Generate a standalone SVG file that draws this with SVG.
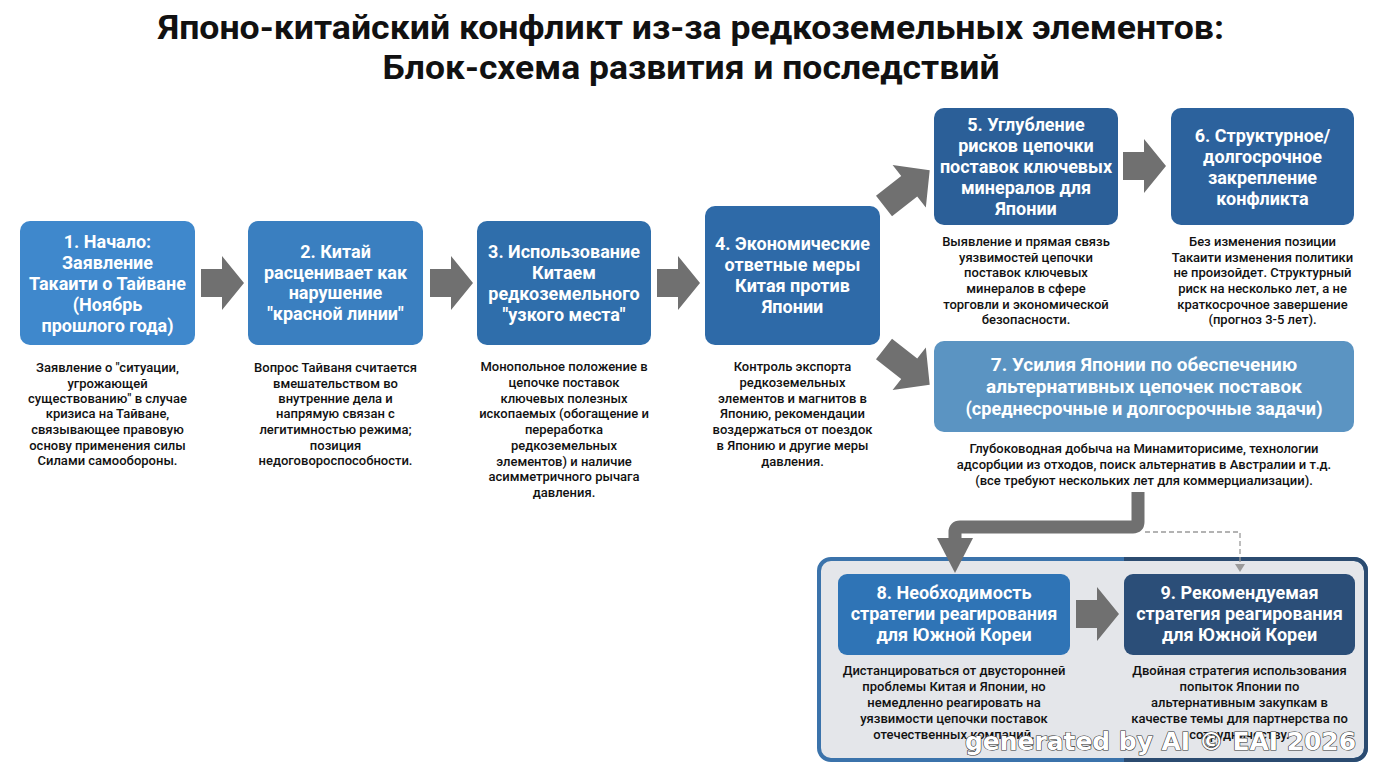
<svg xmlns="http://www.w3.org/2000/svg" width="1376" height="768" viewBox="0 0 1376 768">
<style>
.title{font-family:Roboto,"Liberation Sans",sans-serif;font-weight:700;font-size:34px;fill:#111;text-anchor:middle}
.nt{font-family:Roboto,"Liberation Sans",sans-serif;font-weight:700;font-size:18px;fill:#fff;text-anchor:middle}
.nt7{font-family:Roboto,"Liberation Sans",sans-serif;font-weight:700;font-size:19px;fill:#fff;text-anchor:middle}
.ds{font-family:Roboto,"Liberation Sans",sans-serif;font-weight:500;font-size:13px;fill:#111;text-anchor:middle}
.arr{fill:#707070}
.wm{font-family:"DejaVu Sans",sans-serif;font-weight:700;font-size:25px;fill:#fff;stroke:#333;stroke-width:1.2;paint-order:stroke}
</style>
<defs>
<path id="harrow" d="M0,-14 H21 V-27 L43,0 L21,27 V14 H0 Z"/>
<path id="darrow" d="M0,-13 H32 V-27 L58,0 L32,27 V13 H0 Z"/>
</defs>
<rect width="1376" height="768" fill="#fff"/>
<g id="title">
<text class="title" x="691" y="39" textLength="1066" lengthAdjust="spacingAndGlyphs">Японо-китайский конфликт из-за редкоземельных элементов:</text>
<text class="title" x="691" y="79" textLength="617" lengthAdjust="spacingAndGlyphs">Блок-схема развития и последствий</text>
</g>
<g id="container">
<rect x="819" y="559" width="547" height="201" rx="12" fill="#e4e6ea" stroke="#3b73ab" stroke-width="4"/>
<path d="M1124,559 H1354 A12,12 0 0 1 1366,571 V748 A12,12 0 0 1 1354,760 H1124" fill="none" stroke="#2b4b70" stroke-width="4"/>
</g>
<g id="connectors">
<use href="#harrow" class="arr" transform="translate(201,283)"/>
<use href="#harrow" class="arr" transform="translate(430,283)"/>
<use href="#harrow" class="arr" transform="translate(657,283)"/>
<use href="#darrow" class="arr" transform="translate(884,206) rotate(-38)"/>
<use href="#darrow" class="arr" transform="translate(884,349) rotate(38)"/>
<use href="#harrow" class="arr" transform="translate(1123,166)"/>
<use href="#harrow" class="arr" transform="translate(1076,614)"/>
<path d="M1138,492 V522 Q1138,527 1133,527 H960 Q955,527 955,532 V540" fill="none" stroke="#707070" stroke-width="13"/>
<path d="M937,538 H973 L955,573 Z" class="arr"/>
<path d="M1145,532 H1240 V566" fill="none" stroke="#9a9a9a" stroke-width="1.3" stroke-dasharray="5 3"/>
<path d="M1235,564 H1245 L1240,572 Z" fill="#9a9a9a"/>
</g>
<g id="node1">
<rect x="20" y="221" width="175" height="124" rx="10" fill="#3f88cc"/>
<text class="nt" x="107.5" y="248">1. Начало:</text>
<text class="nt" x="107.5" y="269">Заявление</text>
<text class="nt" x="107.5" y="290">Такаити о Тайване</text>
<text class="nt" x="107.5" y="311">(Ноябрь</text>
<text class="nt" x="107.5" y="332">прошлого года)</text>
<text class="ds" x="107.5" y="372">Заявление о "ситуации,</text>
<text class="ds" x="107.5" y="388">угрожающей</text>
<text class="ds" x="107.5" y="403">существованию" в случае</text>
<text class="ds" x="107.5" y="418">кризиса на Тайване,</text>
<text class="ds" x="107.5" y="434">связывающее правовую</text>
<text class="ds" x="107.5" y="450">основу применения силы</text>
<text class="ds" x="107.5" y="465">Силами самообороны.</text>
</g>
<g id="node2">
<rect x="248" y="221" width="175" height="124" rx="10" fill="#3a7fc0"/>
<text class="nt" x="335.5" y="258">2. Китай</text>
<text class="nt" x="335.5" y="279">расценивает как</text>
<text class="nt" x="335.5" y="299">нарушение</text>
<text class="nt" x="335.5" y="320">"красной линии"</text>
<text class="ds" x="335.5" y="372">Вопрос Тайваня считается</text>
<text class="ds" x="335.5" y="388">вмешательством во</text>
<text class="ds" x="335.5" y="403">внутренние дела и</text>
<text class="ds" x="335.5" y="418">напрямую связан с</text>
<text class="ds" x="335.5" y="434">легитимностью режима;</text>
<text class="ds" x="335.5" y="450">позиция</text>
<text class="ds" x="335.5" y="465">недоговороспособности.</text>
</g>
<g id="node3">
<rect x="477" y="221" width="174" height="124" rx="10" fill="#2f6eab"/>
<text class="nt" x="564" y="258">3. Использование</text>
<text class="nt" x="564" y="279">Китаем</text>
<text class="nt" x="564" y="300">редкоземельного</text>
<text class="nt" x="564" y="321">"узкого места"</text>
<text class="ds" x="564" y="371">Монопольное положение в</text>
<text class="ds" x="564" y="387">цепочке поставок</text>
<text class="ds" x="564" y="403">ключевых полезных</text>
<text class="ds" x="564" y="418">ископаемых (обогащение и</text>
<text class="ds" x="564" y="434">переработка</text>
<text class="ds" x="564" y="450">редкоземельных</text>
<text class="ds" x="564" y="466">элементов) и наличие</text>
<text class="ds" x="564" y="481">асимметричного рычага</text>
<text class="ds" x="564" y="497">давления.</text>
</g>
<g id="node4">
<rect x="705" y="206" width="175" height="139" rx="10" fill="#2e6aa8"/>
<text class="nt" x="792.5" y="250">4. Экономические</text>
<text class="nt" x="792.5" y="271">ответные меры</text>
<text class="nt" x="792.5" y="292">Китая против</text>
<text class="nt" x="792.5" y="313">Японии</text>
<text class="ds" x="792.5" y="371">Контроль экспорта</text>
<text class="ds" x="792.5" y="387">редкоземельных</text>
<text class="ds" x="792.5" y="403">элементов и магнитов в</text>
<text class="ds" x="792.5" y="418">Японию, рекомендации</text>
<text class="ds" x="792.5" y="434">воздержаться от поездок</text>
<text class="ds" x="792.5" y="450">в Японию и другие меры</text>
<text class="ds" x="792.5" y="466">давления.</text>
</g>
<g id="node5">
<rect x="934" y="108" width="184" height="117" rx="10" fill="#2b5f98"/>
<text class="nt" x="1026" y="131">5. Углубление</text>
<text class="nt" x="1026" y="152">рисков цепочки</text>
<text class="nt" x="1026" y="173">поставок ключевых</text>
<text class="nt" x="1026" y="194">минералов для</text>
<text class="nt" x="1026" y="215">Японии</text>
<text class="ds" x="1026" y="246">Выявление и прямая связь</text>
<text class="ds" x="1026" y="262">уязвимостей цепочки</text>
<text class="ds" x="1026" y="277">поставок ключевых</text>
<text class="ds" x="1026" y="293">минералов в сфере</text>
<text class="ds" x="1026" y="309">торговли и экономической</text>
<text class="ds" x="1026" y="324">безопасности.</text>
</g>
<g id="node6">
<rect x="1171" y="108" width="183" height="117" rx="10" fill="#2c629d"/>
<text class="nt" x="1262.5" y="142">6. Структурное/</text>
<text class="nt" x="1262.5" y="163">долгосрочное</text>
<text class="nt" x="1262.5" y="184">закрепление</text>
<text class="nt" x="1262.5" y="205">конфликта</text>
<text class="ds" x="1262.5" y="246">Без изменения позиции</text>
<text class="ds" x="1262.5" y="262">Такаити изменения политики</text>
<text class="ds" x="1262.5" y="277">не произойдет. Структурный</text>
<text class="ds" x="1262.5" y="293">риск на несколько лет, а не</text>
<text class="ds" x="1262.5" y="309">краткосрочное завершение</text>
<text class="ds" x="1262.5" y="324">(прогноз 3-5 лет).</text>
</g>
<g id="node7">
<rect x="934" y="341" width="420" height="91" rx="10" fill="#5b94c2"/>
<text class="nt7" x="1144" y="371">7. Усилия Японии по обеспечению</text>
<text class="nt7" x="1144" y="393">альтернативных цепочек поставок</text>
<text class="nt7" x="1144" y="415" textLength="357" lengthAdjust="spacingAndGlyphs">(среднесрочные и долгосрочные задачи)</text>
<text class="ds" x="1144" y="453">Глубоководная добыча на Минамиторисиме, технологии</text>
<text class="ds" x="1144" y="469">адсорбции из отходов, поиск альтернатив в Австралии и т.д.</text>
<text class="ds" x="1144" y="485">(все требуют нескольких лет для коммерциализации).</text>
</g>
<g id="node8">
<rect x="838" y="574" width="232" height="81" rx="9" fill="#2f74b6"/>
<text class="nt" x="954" y="599">8. Необходимость</text>
<text class="nt" x="954" y="620">стратегии реагирования</text>
<text class="nt" x="954" y="641">для Южной Кореи</text>
<text class="ds" x="954" y="675">Дистанцироваться от двусторонней</text>
<text class="ds" x="954" y="691">проблемы Китая и Японии, но</text>
<text class="ds" x="954" y="707">немедленно реагировать на</text>
<text class="ds" x="954" y="723">уязвимости цепочки поставок</text>
<text class="ds" x="954" y="739">отечественных компаний.</text>
</g>
<g id="node9">
<rect x="1124" y="574" width="231" height="81" rx="9" fill="#2b4e78"/>
<text class="nt" x="1239.5" y="599">9. Рекомендуемая</text>
<text class="nt" x="1239.5" y="620">стратегия реагирования</text>
<text class="nt" x="1239.5" y="641">для Южной Кореи</text>
<text class="ds" x="1239.5" y="675">Двойная стратегия использования</text>
<text class="ds" x="1239.5" y="691">попыток Японии по</text>
<text class="ds" x="1239.5" y="707">альтернативным закупкам в</text>
<text class="ds" x="1239.5" y="723">качестве темы для партнерства по</text>
<text class="ds" x="1239.5" y="739">сотрудничеству.</text>
</g>
<g id="watermark">
<text class="wm" x="965" y="750" textLength="391" lengthAdjust="spacingAndGlyphs">generated by AI © EAI 2026</text>
</g>
</svg>
